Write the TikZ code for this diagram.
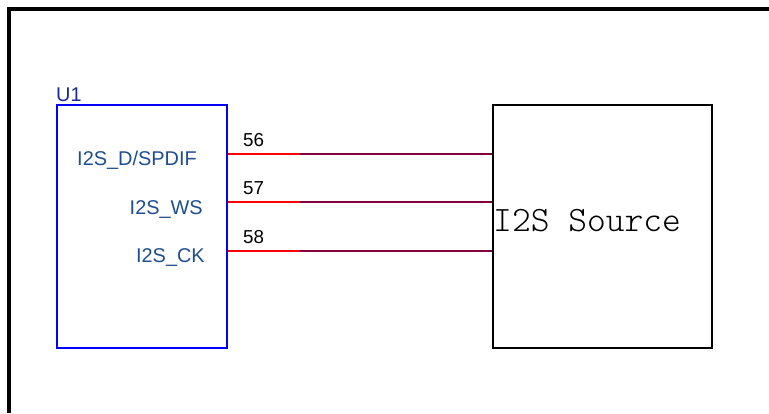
\documentclass[tikz,border=0pt]{standalone}
\usepackage{fontspec}
\setmainfont{Liberation Sans}
\usepackage{tikz}
\definecolor{SchBlue}{HTML}{0000FF}
\definecolor{SchNavy}{HTML}{1C2B8E}
\definecolor{SchPin}{HTML}{1F4E8E}
\definecolor{SchRed}{HTML}{FF0000}
\definecolor{SchWire}{HTML}{800040}

\tikzset{
  pinlabel/.style={anchor=base east,inner sep=0pt,text=SchPin,font=\fontsize{17}{17}\selectfont},
  pinnum/.style={anchor=base west,inner sep=0pt,font=\fontsize{16}{16}\selectfont},
  pinline/.style={SchRed,line width=1.5pt},
  wire/.style={SchWire,line width=1.5pt}
}

\begin{document}
\begin{tikzpicture}[x=0.03cm,y=-0.03cm]
\path[use as bounding box] (0,0) rectangle (769,413);
\draw[line width=3.4pt] (9,413) -- (9,9) -- (769,9);
% parts
\node[draw=SchBlue,line width=1.7pt,minimum width=170*0.03cm,minimum height=243*0.03cm,inner sep=0pt,anchor=north west] (u1) at (56,104) {};
\node[draw,line width=1.7pt,minimum width=219*0.03cm,minimum height=243*0.03cm,inner sep=0pt,anchor=north west] (src) at (492,104) {};
\node[anchor=base west,inner sep=0pt,text=SchNavy,font=\fontsize{17}{17}\selectfont] (refdes) at (56,101) {U1};
\node[anchor=base west,inner sep=0pt,font=\ttfamily\fontseries{l}\fontsize{30.5}{30.5}\selectfont] (srclabel) at (493,231) {I2S Source};
% pin names
\node[pinlabel] (lsd) at (197,165) {I2S\_D/SPDIF};
\node[pinlabel] (lws) at (203,214) {I2S\_WS};
\node[pinlabel] (lck) at (205,262) {I2S\_CK};
\node[pinnum] (n56) at (243,146) {56};
\node[pinnum] (n57) at (243,194) {57};
\node[pinnum] (n58) at (243,243) {58};
% pin ends
\coordinate (p56) at (300,154);
\coordinate (p57) at (300,202);
\coordinate (p58) at (300,251);
\draw[pinline] (u1.east |- p56) -- (p56);
\draw[pinline] (u1.east |- p57) -- (p57);
\draw[pinline] (u1.east |- p58) -- (p58);
\draw[wire] (p56) -- (src.west |- p56);
\draw[wire] (p57) -- (src.west |- p57);
\draw[wire] (p58) -- (src.west |- p58);
\end{tikzpicture}
\end{document}
